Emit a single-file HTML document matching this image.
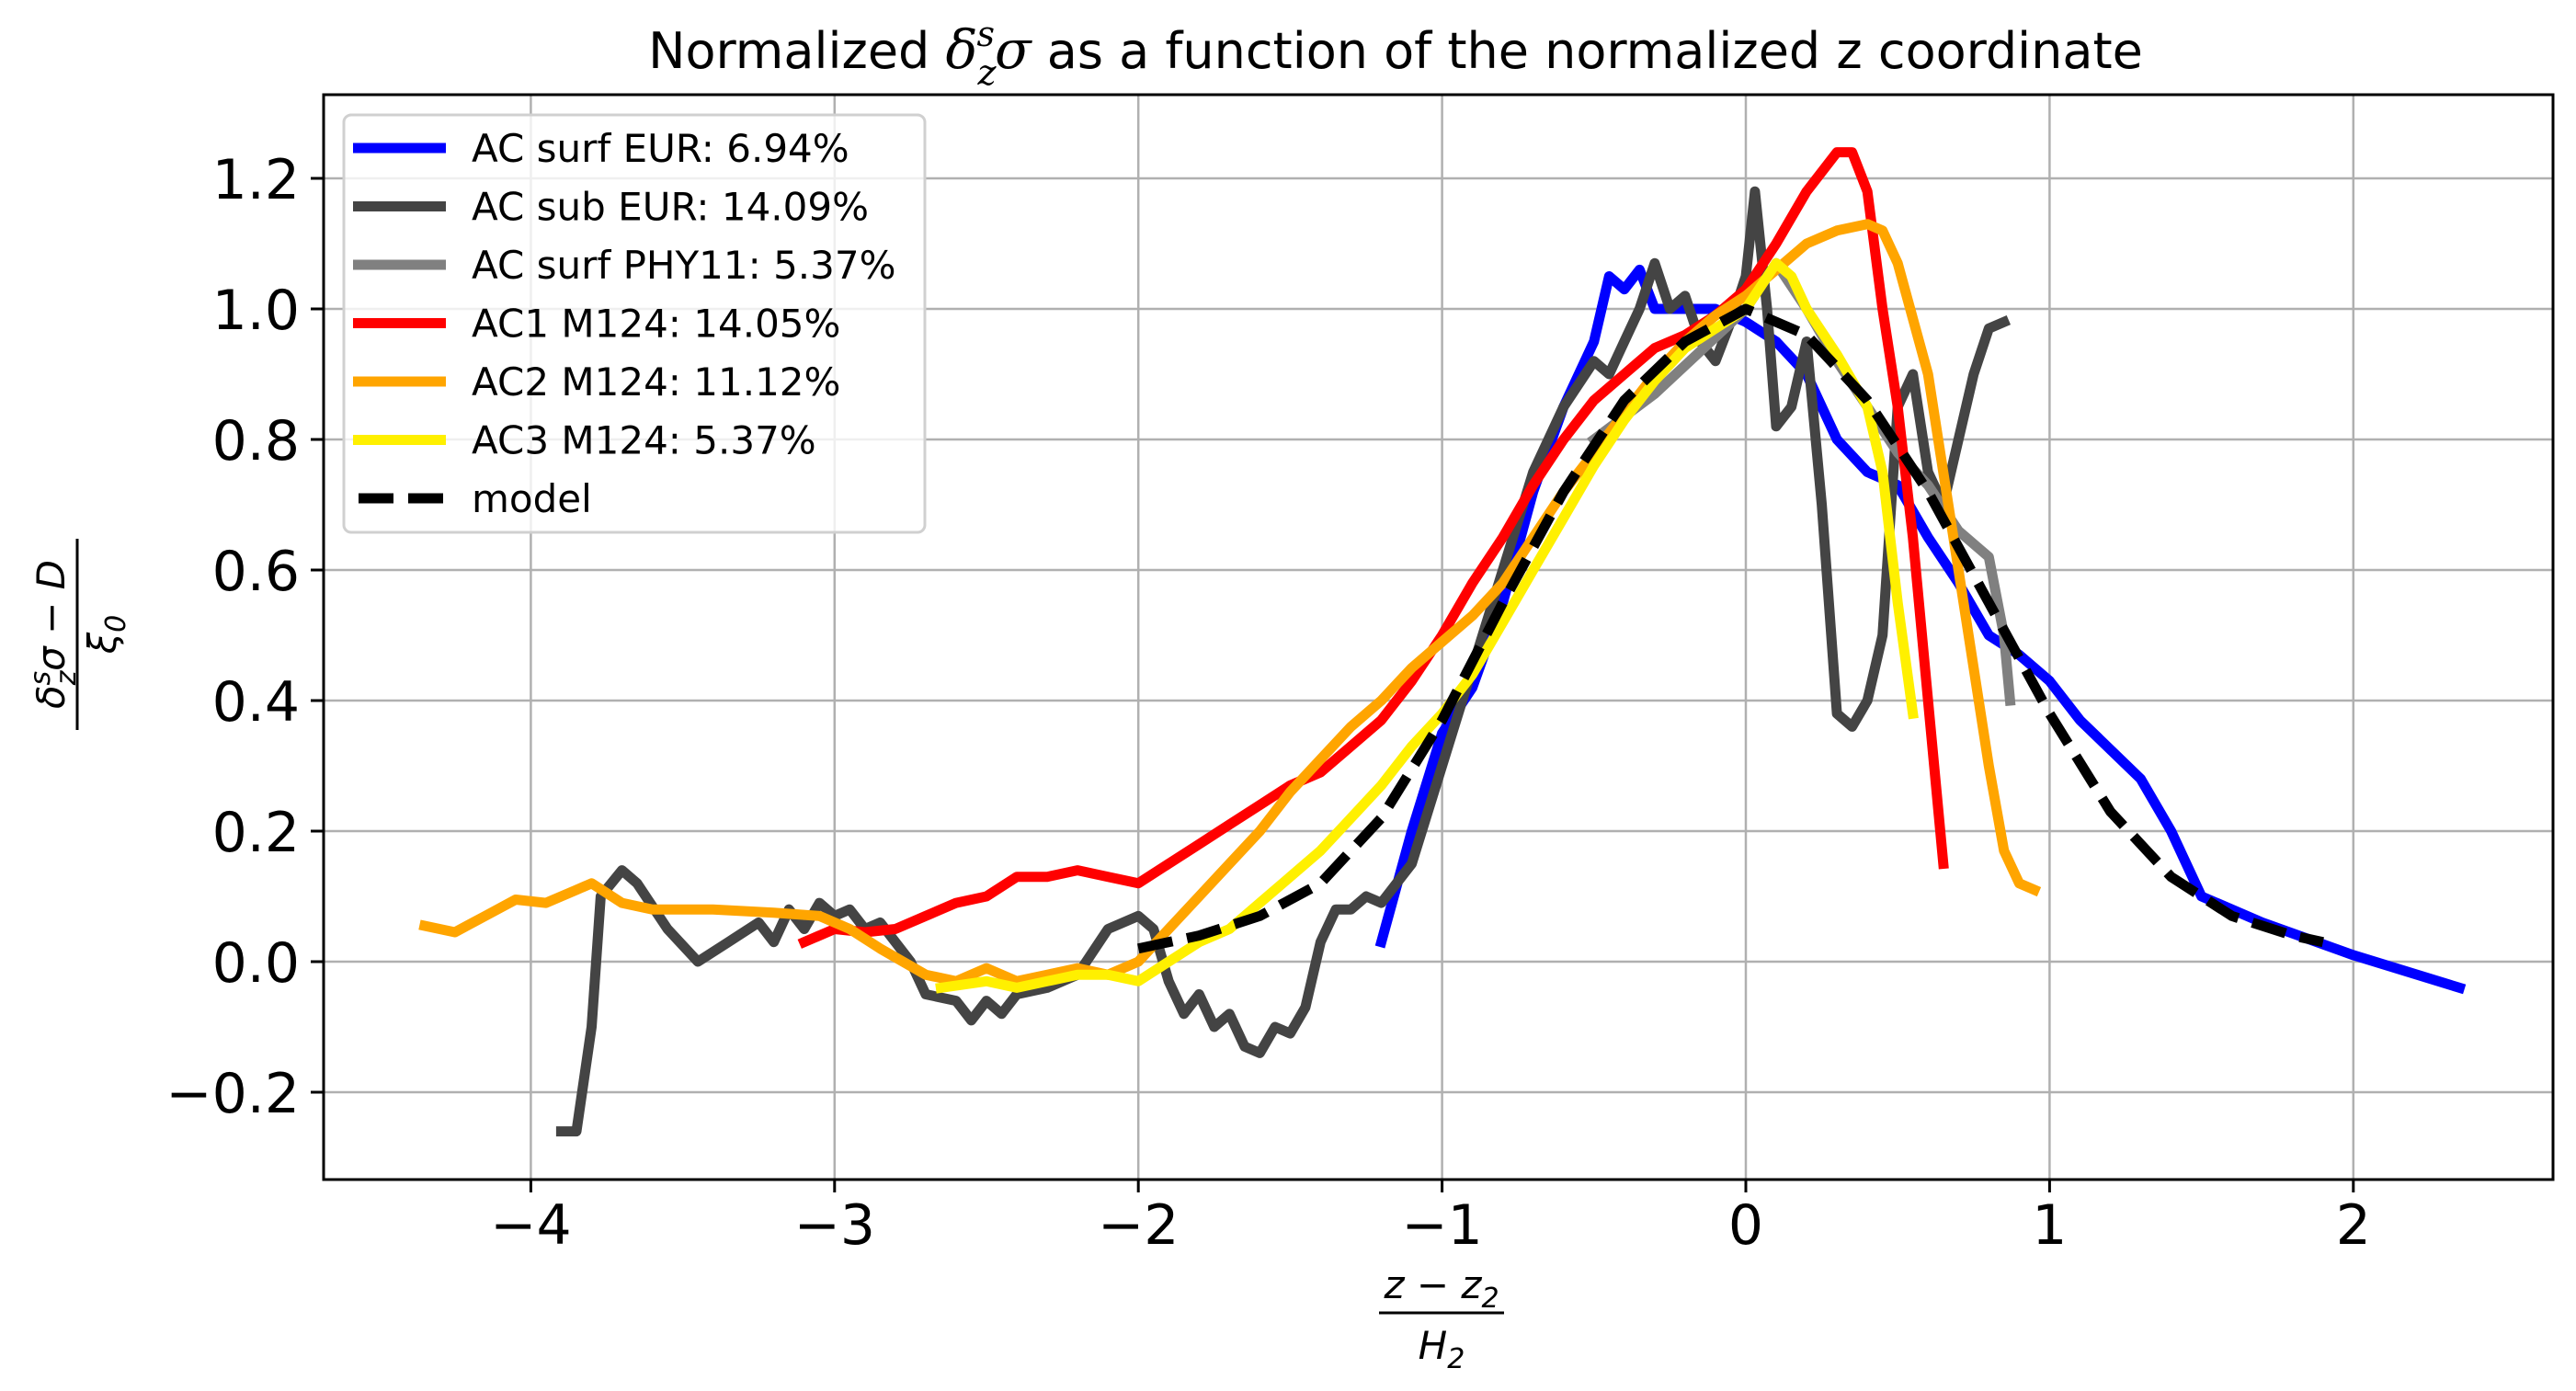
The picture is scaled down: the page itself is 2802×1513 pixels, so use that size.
<!DOCTYPE html>
<html><head><meta charset="utf-8"><style>
html,body{margin:0;padding:0;background:#fff;}
svg{display:block;font-family:"DejaVu Sans","Liberation Sans",sans-serif;}
</style></head><body>
<svg id="chart" width="2802" height="1513" viewBox="0 0 2802 1513" xmlns="http://www.w3.org/2000/svg">
<rect width="2802" height="1513" fill="#fff"/>
<g id="grid"></g>
<g id="series"></g>
<g id="axes"></g>
<text x="1518" y="74" font-size="54" text-anchor="middle">Normalized  <tspan font-family="DejaVu Serif" font-style="italic" font-size="58">δ<tspan font-size="38" dy="18">z</tspan><tspan font-size="38" dy="-42" dx="-21">s</tspan><tspan dy="24">σ</tspan></tspan>  as a function of the normalized z coordinate</text>
<g transform="translate(84,690) rotate(-90)" font-family="DejaVu Sans" font-style="italic">
<text x="0" y="-14" font-size="42" text-anchor="middle">δ<tspan font-size="30" dy="12">z</tspan><tspan font-size="30" dy="-28" dx="-16">s</tspan><tspan dy="16">σ − D</tspan></text>
<line x1="-104" y1="0" x2="104" y2="0" stroke="#000" stroke-width="3"/>
<text x="0" y="42" font-size="42" text-anchor="middle">ξ<tspan font-size="30" dy="10">0</tspan></text>
</g>
<g font-family="DejaVu Sans" font-style="italic">
<text x="1568" y="1412" font-size="42" text-anchor="middle">z − z<tspan font-size="30" dy="10">2</tspan></text>
<line x1="1500" y1="1428" x2="1636" y2="1428" stroke="#000" stroke-width="3"/>
<text x="1568" y="1478" font-size="42" text-anchor="middle">H<tspan font-size="30" dy="10">2</tspan></text>
</g>
<g id="legend"></g>
</svg>
<script>
const xTicks=[-4,-3,-2,-1,0,1,2];
const yTicks=[-0.2,0,0.2,0.4,0.6,0.8,1.0,1.2];
const yTickLabels=["−0.2","0.0","0.2","0.4","0.6","0.8","1.0","1.2"];
const xTickLabels=["−4","−3","−2","−1","0","1","2"];
const seriesNames=["AC surf EUR: 6.94%","AC sub EUR: 14.09%","AC surf PHY11: 5.37%","AC1 M124: 14.05%","AC2 M124: 11.12%","AC3 M124: 5.37%","model"];
const seriesColors=["#0000ff","#444444","#808080","#ff0000","#ffa500","#fff000","#000000"];
const blueX=[-1.2,-1.1,-1.0,-0.9,-0.8,-0.7,-0.6,-0.5,-0.45,-0.4,-0.35,-0.3,-0.2,-0.1,0,0.1,0.2,0.3,0.4,0.5,0.6,0.7,0.8,0.9,1.0,1.1,1.3,1.4,1.5,1.7,2.0,2.35];
const blueY=[0.03,0.2,0.35,0.42,0.55,0.72,0.85,0.95,1.05,1.03,1.06,1.0,1.0,1.0,0.98,0.95,0.9,0.8,0.75,0.73,0.65,0.58,0.5,0.47,0.43,0.37,0.28,0.2,0.1,0.06,0.01,-0.04];
const subX=[-3.9,-3.85,-3.8,-3.77,-3.7,-3.65,-3.55,-3.45,-3.35,-3.25,-3.2,-3.15,-3.1,-3.05,-3.0,-2.95,-2.9,-2.85,-2.75,-2.7,-2.6,-2.55,-2.5,-2.45,-2.4,-2.3,-2.2,-2.1,-2.0,-1.95,-1.9,-1.85,-1.8,-1.75,-1.7,-1.65,-1.6,-1.55,-1.5,-1.45,-1.4,-1.35,-1.3,-1.25,-1.2,-1.1,-1.0,-0.9,-0.8,-0.7,-0.6,-0.5,-0.45,-0.4,-0.35,-0.3,-0.25,-0.2,-0.15,-0.1,-0.05,0,0.03,0.07,0.1,0.15,0.2,0.25,0.3,0.35,0.4,0.45,0.5,0.55,0.6,0.65,0.7,0.75,0.8,0.85];
const subY=[-0.26,-0.26,-0.1,0.1,0.14,0.12,0.05,0.0,0.03,0.06,0.03,0.08,0.05,0.09,0.07,0.08,0.05,0.06,0.0,-0.05,-0.06,-0.09,-0.06,-0.08,-0.05,-0.04,-0.02,0.05,0.07,0.05,-0.03,-0.08,-0.05,-0.1,-0.08,-0.13,-0.14,-0.1,-0.11,-0.07,0.03,0.08,0.08,0.1,0.09,0.15,0.3,0.45,0.6,0.75,0.85,0.92,0.9,0.95,1.0,1.07,1.0,1.02,0.95,0.92,0.98,1.05,1.18,1.0,0.82,0.85,0.95,0.7,0.38,0.36,0.4,0.5,0.85,0.9,0.75,0.7,0.8,0.9,0.97,0.98];
const phyX=[-0.5,-0.3,0,0.1,0.2,0.3,0.4,0.5,0.6,0.7,0.8,0.85,0.87];
const phyY=[0.8,0.87,1.0,1.07,1.0,0.92,0.85,0.78,0.73,0.66,0.62,0.5,0.4];
const redX=[-3.1,-3.0,-2.9,-2.8,-2.7,-2.6,-2.5,-2.4,-2.3,-2.2,-2.1,-2.0,-1.9,-1.8,-1.7,-1.6,-1.5,-1.4,-1.3,-1.2,-1.1,-1.0,-0.9,-0.8,-0.7,-0.6,-0.5,-0.4,-0.3,-0.2,-0.1,0,0.1,0.2,0.3,0.35,0.4,0.45,0.5,0.55,0.6,0.65];
const redY=[0.03,0.05,0.045,0.05,0.07,0.09,0.1,0.13,0.13,0.14,0.13,0.12,0.15,0.18,0.21,0.24,0.27,0.29,0.33,0.37,0.43,0.5,0.58,0.65,0.73,0.8,0.86,0.9,0.94,0.96,0.99,1.03,1.1,1.18,1.24,1.24,1.18,1.0,0.85,0.65,0.4,0.15];
const orangeX=[-4.35,-4.25,-4.15,-4.05,-3.95,-3.85,-3.8,-3.7,-3.6,-3.4,-3.2,-3.05,-2.95,-2.85,-2.7,-2.6,-2.5,-2.4,-2.3,-2.2,-2.1,-2.0,-1.9,-1.8,-1.7,-1.6,-1.5,-1.4,-1.3,-1.2,-1.1,-1.0,-0.9,-0.8,-0.7,-0.6,-0.5,-0.4,-0.3,-0.2,-0.1,0,0.1,0.2,0.3,0.4,0.45,0.5,0.6,0.7,0.8,0.85,0.9,0.95];
const orangeY=[0.055,0.045,0.07,0.095,0.09,0.11,0.12,0.09,0.08,0.08,0.075,0.07,0.05,0.02,-0.02,-0.03,-0.01,-0.03,-0.02,-0.01,-0.02,0.0,0.05,0.1,0.15,0.2,0.26,0.31,0.36,0.4,0.45,0.49,0.53,0.58,0.65,0.72,0.78,0.84,0.9,0.95,0.99,1.02,1.06,1.1,1.12,1.13,1.12,1.07,0.9,0.6,0.3,0.17,0.12,0.11];
const yellowX=[-2.65,-2.5,-2.4,-2.3,-2.2,-2.1,-2.0,-1.9,-1.8,-1.7,-1.6,-1.5,-1.4,-1.3,-1.2,-1.1,-1.0,-0.9,-0.8,-0.7,-0.6,-0.5,-0.4,-0.3,-0.2,-0.1,0,0.1,0.15,0.2,0.3,0.4,0.45,0.5,0.55];
const yellowY=[-0.04,-0.03,-0.04,-0.03,-0.02,-0.02,-0.03,0.0,0.03,0.05,0.09,0.13,0.17,0.22,0.27,0.33,0.38,0.44,0.52,0.6,0.68,0.76,0.83,0.89,0.94,0.97,1.0,1.07,1.05,1.0,0.93,0.85,0.75,0.55,0.38];
const modelX=[-2.0,-1.8,-1.6,-1.4,-1.2,-1.0,-0.8,-0.6,-0.4,-0.2,0,0.2,0.4,0.6,0.8,1.0,1.2,1.4,1.6,1.8,1.9];
const modelY=[0.02,0.04,0.07,0.12,0.22,0.37,0.55,0.72,0.86,0.95,1.0,0.96,0.86,0.72,0.55,0.38,0.23,0.13,0.07,0.04,0.03];

const L=352,R=2777,T=103,B=1283;
const X=v=>1899+v*330.4;
const Y=v=>1046-v*710;
const NS="http://www.w3.org/2000/svg";
function mk(parent,tag,attrs){const e=document.createElementNS(NS,tag);for(const k in attrs)e.setAttribute(k,attrs[k]);parent.appendChild(e);return e;}
const grid=document.getElementById('grid'),axes=document.getElementById('axes'),ser=document.getElementById('series'),leg=document.getElementById('legend');
xTicks.forEach((t,i)=>{
  const g=mk(grid,'line',{x1:X(t),x2:X(t),y1:T,y2:B,stroke:'#b0b0b0','stroke-width':2.5});
  
  
  const tk=mk(axes,'line',{x1:X(t),x2:X(t),y1:B,y2:B+14,stroke:'#000','stroke-width':3});
  
  
  const tx=mk(axes,'text',{x:X(t),y:B+70,'font-size':60,'text-anchor':'middle'});
  tx.textContent=xTickLabels[i];
  
  
});
yTicks.forEach((t,i)=>{
  const g=mk(grid,'line',{x1:L,x2:R,y1:Y(t),y2:Y(t),stroke:'#b0b0b0','stroke-width':2.5});
  
  
  const tk=mk(axes,'line',{x1:L-14,x2:L,y1:Y(t),y2:Y(t),stroke:'#000','stroke-width':3});
  
  
  const tx=mk(axes,'text',{x:L-26,y:Y(t)+22,'font-size':60,'text-anchor':'end'});
  tx.textContent=yTickLabels[i];
  
  
});
const fr=mk(axes,'rect',{x:L,y:T,width:R-L,height:B-T,fill:'none',stroke:'#000','stroke-width':3});


const allX=[blueX,subX,phyX,redX,orangeX,yellowX,modelX];
const allY=[blueY,subY,phyY,redY,orangeY,yellowY,modelY];
const seriesIds=['ac-surf-eur-line','ac-sub-eur-line','ac-surf-phy11-line','ac1-m124-line','ac2-m124-line','ac3-m124-line','model-line'];
allX.forEach((xs,s)=>{
  const pts=xs.map((x,i)=>X(x).toFixed(1)+','+Y(allY[s][i]).toFixed(1)).join(' ');
  const a={points:pts,fill:'none',stroke:seriesColors[s],'stroke-width':11,'stroke-linejoin':'round','stroke-linecap':s===6?'butt':'square'};
  if(s===6)a['stroke-dasharray']='38 16';
  const p=mk(ser,'polyline',a);
  
  
});
const box=mk(leg,'rect',{x:374,y:125,width:632,height:454,rx:8,fill:'#fff','fill-opacity':0.8,stroke:'#d0d0d0','stroke-width':3});


seriesNames.forEach((n,i)=>{
  const y=161+i*63.5;
  const a={x1:384,x2:485,y1:y,y2:y,stroke:seriesColors[i],'stroke-width':11};
  if(i===6){a['stroke-dasharray']='38 16';a.x1=390;}
  const l=mk(leg,'line',a);
  
  
  const t=mk(leg,'text',{x:513,y:y+15,'font-size':42});
  t.textContent=n;
  
  
});
</script>
</body></html>
